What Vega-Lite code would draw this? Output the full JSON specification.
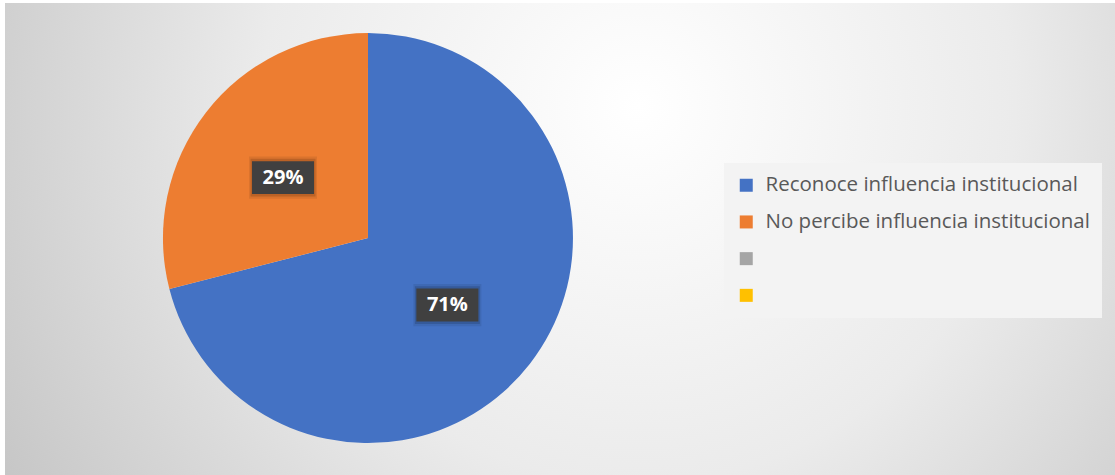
{
  "$schema": "https://vega.github.io/schema/vega-lite/v6.json",
  "width": 1115,
  "height": 475,
  "autosize": {"type": "fit", "contains": "padding"},
  "padding": {"left": 5, "top": 3, "right": 0, "bottom": 0},
  "background": "#ffffff",
  "config": {
    "view": {
      "stroke": null,
      "fill": {
        "gradient": "radial",
        "x1": 0.57, "y1": 0.38, "r1": 0,
        "x2": 0.57, "y2": 0.38, "r2": 0.68,
        "stops": [
          {"offset": 0, "color": "#ffffff"},
          {"offset": 0.5, "color": "#ebebeb"},
          {"offset": 1, "color": "#c4c4c4"}
        ]
      }
    }
  },
  "data": {
    "values": [
      {"categoria": "Reconoce influencia institucional", "porcentaje": 0.71, "orden": 1},
      {"categoria": "No percibe influencia institucional", "porcentaje": 0.29, "orden": 2}
    ]
  },
  "layer": [
    {
      "mark": {"type": "arc", "outerRadius": 205},
      "encoding": {
        "theta": {"field": "porcentaje", "type": "quantitative", "stack": true},
        "order": {"field": "orden", "type": "ordinal"},
        "x": {"datum": 0.327, "type": "quantitative", "scale": {"domain": [0, 1], "nice": false, "zero": false}, "axis": null},
        "y": {"datum": 0.502, "type": "quantitative", "scale": {"domain": [0, 1], "nice": false, "zero": false}, "axis": null},
        "color": {
          "field": "categoria",
          "type": "nominal",
          "scale": {
            "domain": ["Reconoce influencia institucional", "No percibe influencia institucional", "Serie 3", "Serie 4"],
            "range": ["#4472c4", "#ed7d31", "#a5a5a5", "#ffc000"]
          },
          "legend": {
            "title": null,
            "orient": "none",
            "legendX": 719,
            "legendY": 160,
            "direction": "vertical",
            "symbolType": "square",
            "symbolSize": 169,
            "symbolStrokeWidth": 0,
            "labelFont": "Open Sans",
            "labelFontSize": 20.5,
            "labelColor": "#595959",
            "labelOffset": 9,
            "labelLimit": 500,
            "rowPadding": 15.7,
            "padding": 12,
            "fillColor": "#f3f3f3",
            "labelExpr": "datum.label == 'Serie 3' || datum.label == 'Serie 4' ? '' : datum.label"
          }
        }
      }
    },
    {
      "transform": [
        {"window": [{"op": "sum", "field": "porcentaje", "as": "acum"}], "sort": [{"field": "orden"}], "frame": [null, 0]},
        {"calculate": "2 * PI * (datum.acum - datum.porcentaje / 2)", "as": "ang"},
        {"calculate": "0.3245 + 104 * sin(datum.ang) / 1110", "as": "lx"},
        {"calculate": "0.495 + 104 * cos(datum.ang) / 472", "as": "ly"}
      ],
      "encoding": {
        "x": {"field": "lx", "type": "quantitative", "scale": {"domain": [0, 1], "nice": false, "zero": false}, "axis": null},
        "y": {"field": "ly", "type": "quantitative", "scale": {"domain": [0, 1], "nice": false, "zero": false}, "axis": null}
      },
      "layer": [
        {"mark": {"type": "point", "filled": true, "shape": "M-1,-0.62H1V0.62H-1Z", "size": 4624, "color": "#000000", "opacity": 0.08, "strokeWidth": 0}},
        {"mark": {"type": "point", "filled": true, "shape": "M-1,-0.58H1V0.58H-1Z", "size": 4225, "color": "#000000", "opacity": 0.14, "strokeWidth": 0}},
        {"mark": {"type": "point", "filled": true, "shape": "M-1,-0.532H1V0.532H-1Z", "size": 3844, "color": "#404040", "opacity": 1, "strokeWidth": 0}},
        {
          "mark": {"type": "text", "font": "Open Sans", "fontSize": 20, "fontWeight": "bold", "color": "#ffffff", "baseline": "middle", "align": "center"},
          "encoding": {"text": {"field": "porcentaje", "type": "quantitative", "format": ".0%"}}
        }
      ]
    }
  ]
}
